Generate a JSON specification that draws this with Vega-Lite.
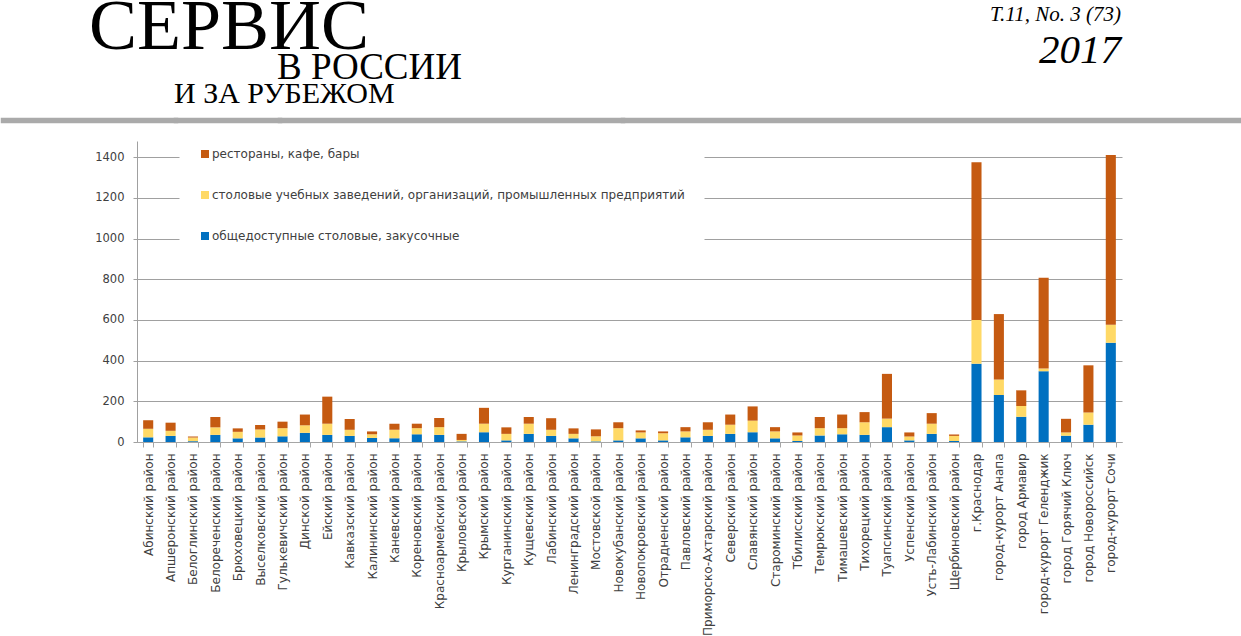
{
  "$schema": "https://vega.github.io/schema/vega-lite/v6.json",
  "padding": {"left": 0, "top": -12, "right": 0, "bottom": 0},
  "background": "white",
  "columns": 1,
  "spacing": 0,
  "config": {"view": {"stroke": null}, "concat": {"spacing": 0}},
  "resolve": {"legend": {"color": "independent"}},
  "concat": [
    {
      "spacing": 0,
      "bounds": "flush",
      "hconcat": [
        {
          "width": 173, "height": 1,
          "view": {"stroke": "#aaaaaa", "strokeWidth": 4.5},
          "data": {"values": [{}]},
          "mark": "text",
          "encoding": {"text": {"value": ""}},
          "title": {
            "text": "СЕРВИС", "anchor": "start", "frame": "group", "dx": 86, "offset": 50.5,
            "font": "Liberation Serif", "fontSize": 72, "fontWeight": "normal", "color": "black"
          }
        },
        {
          "width": 104, "height": 1,
          "view": {"stroke": "#aaaaaa", "strokeWidth": 4.5},
          "data": {"values": [{}]},
          "mark": "text",
          "encoding": {"text": {"value": ""}},
          "title": {
            "text": "И ЗА РУБЕЖОМ", "anchor": "start", "frame": "group", "dx": -2, "offset": 5.5,
            "font": "Liberation Serif", "fontSize": 30, "fontWeight": "normal", "color": "black"
          }
        },
        {
          "width": 343, "height": 1,
          "view": {"stroke": "#aaaaaa", "strokeWidth": 4.5},
          "data": {"values": [{}]},
          "mark": "text",
          "encoding": {"text": {"value": ""}},
          "title": {
            "text": "В РОССИИ", "anchor": "start", "frame": "group", "dx": -3, "offset": 27.5,
            "font": "Liberation Serif", "fontSize": 37, "fontWeight": "normal", "color": "black"
          }
        },
        {
          "width": 621, "height": 1,
          "view": {"stroke": "#aaaaaa", "strokeWidth": 4.5},
          "data": {"values": [{}]},
          "mark": "text",
          "encoding": {"text": {"value": ""}},
          "title": {
            "text": "T.11, No. 3 (73)",
            "subtitle": "2017",
            "anchor": "end", "frame": "group", "dx": -123, "offset": 43.5,
            "font": "Liberation Serif", "fontStyle": "italic", "fontSize": 21, "fontWeight": "normal", "color": "black",
            "subtitleFont": "Liberation Serif", "subtitleFontStyle": "italic", "subtitleFontSize": 41, "subtitleColor": "black", "subtitlePadding": 6
          }
        }
      ]
    },
    {
      "spacing": 0,
      "resolve": {"legend": {"color": "independent"}},
      "hconcat": [
        {
          "width": 1, "height": 1,
          "data": {"values": [{}]},
          "mark": "text",
          "encoding": {"text": {"value": ""}}
        },
        {
          "width": 985,
          "height": 301,
          "data": {"values": [
            {"district": "Абинский район", "общедоступные столовые, закусочные": 23, "столовые учебных заведений, организаций, промышленных предприятий": 42, "рестораны, кафе, бары": 42},
            {"district": "Апшеронский район", "общедоступные столовые, закусочные": 30, "столовые учебных заведений, организаций, промышленных предприятий": 25, "рестораны, кафе, бары": 40},
            {"district": "Белоглинский район", "общедоступные столовые, закусочные": 4, "столовые учебных заведений, организаций, промышленных предприятий": 18, "рестораны, кафе, бары": 5},
            {"district": "Белореченский район", "общедоступные столовые, закусочные": 35, "столовые учебных заведений, организаций, промышленных предприятий": 37, "рестораны, кафе, бары": 51},
            {"district": "Брюховецкий район", "общедоступные столовые, закусочные": 18, "столовые учебных заведений, организаций, промышленных предприятий": 32, "рестораны, кафе, бары": 17},
            {"district": "Выселковский район", "общедоступные столовые, закусочные": 22, "столовые учебных заведений, организаций, промышленных предприятий": 40, "рестораны, кафе, бары": 21},
            {"district": "Гулькевичский район", "общедоступные столовые, закусочные": 28, "столовые учебных заведений, организаций, промышленных предприятий": 40, "рестораны, кафе, бары": 32},
            {"district": "Динской район", "общедоступные столовые, закусочные": 45, "столовые учебных заведений, организаций, промышленных предприятий": 37, "рестораны, кафе, бары": 53},
            {"district": "Ейский район", "общедоступные столовые, закусочные": 35, "столовые учебных заведений, организаций, промышленных предприятий": 55, "рестораны, кафе, бары": 133},
            {"district": "Кавказский район", "общедоступные столовые, закусочные": 30, "столовые учебных заведений, организаций, промышленных предприятий": 30, "рестораны, кафе, бары": 53},
            {"district": "Калининский район", "общедоступные столовые, закусочные": 20, "столовые учебных заведений, организаций, промышленных предприятий": 18, "рестораны, кафе, бары": 14},
            {"district": "Каневский район", "общедоступные столовые, закусочные": 18, "столовые учебных заведений, организаций, промышленных предприятий": 42, "рестораны, кафе, бары": 30},
            {"district": "Кореновский район", "общедоступные столовые, закусочные": 38, "столовые учебных заведений, организаций, промышленных предприятий": 30, "рестораны, кафе, бары": 22},
            {"district": "Красноармейский район", "общедоступные столовые, закусочные": 35, "столовые учебных заведений, организаций, промышленных предприятий": 38, "рестораны, кафе, бары": 45},
            {"district": "Крыловской район", "общедоступные столовые, закусочные": 3, "столовые учебных заведений, организаций, промышленных предприятий": 7, "рестораны, кафе, бары": 30},
            {"district": "Крымский район", "общедоступные столовые, закусочные": 48, "столовые учебных заведений, организаций, промышленных предприятий": 42, "рестораны, кафе, бары": 78},
            {"district": "Курганинский район", "общедоступные столовые, закусочные": 8, "столовые учебных заведений, организаций, промышленных предприятий": 32, "рестораны, кафе, бары": 32},
            {"district": "Кущевский район", "общедоступные столовые, закусочные": 40, "столовые учебных заведений, организаций, промышленных предприятий": 50, "рестораны, кафе, бары": 33},
            {"district": "Лабинский район", "общедоступные столовые, закусочные": 30, "столовые учебных заведений, организаций, промышленных предприятий": 30, "рестораны, кафе, бары": 57},
            {"district": "Ленинградский район", "общедоступные столовые, закусочные": 18, "столовые учебных заведений, организаций, промышленных предприятий": 22, "рестораны, кафе, бары": 27},
            {"district": "Мостовской район", "общедоступные столовые, закусочные": 3, "столовые учебных заведений, организаций, промышленных предприятий": 25, "рестораны, кафе, бары": 34},
            {"district": "Новокубанский район", "общедоступные столовые, закусочные": 8, "столовые учебных заведений, организаций, промышленных предприятий": 60, "рестораны, кафе, бары": 29},
            {"district": "Новопокровский район", "общедоступные столовые, закусочные": 18, "столовые учебных заведений, организаций, промышленных предприятий": 29, "рестораны, кафе, бары": 10},
            {"district": "Отрадненский район", "общедоступные столовые, закусочные": 8, "столовые учебных заведений, организаций, промышленных предприятий": 35, "рестораны, кафе, бары": 9},
            {"district": "Павловский район", "общедоступные столовые, закусочные": 23, "столовые учебных заведений, организаций, промышленных предприятий": 29, "рестораны, кафе, бары": 21},
            {"district": "Приморско-Ахтарский район", "общедоступные столовые, закусочные": 30, "столовые учебных заведений, организаций, промышленных предприятий": 30, "рестораны, кафе, бары": 37},
            {"district": "Северский район", "общедоступные столовые, закусочные": 40, "столовые учебных заведений, организаций, промышленных предприятий": 45, "рестораны, кафе, бары": 50},
            {"district": "Славянский район", "общедоступные столовые, закусочные": 48, "столовые учебных заведений, организаций, промышленных предприятий": 57, "рестораны, кафе, бары": 70},
            {"district": "Староминский район", "общедоступные столовые, закусочные": 18, "столовые учебных заведений, организаций, промышленных предприятий": 34, "рестораны, кафе, бары": 21},
            {"district": "Тбилисский район", "общедоступные столовые, закусочные": 5, "столовые учебных заведений, организаций, промышленных предприятий": 27, "рестораны, кафе, бары": 15},
            {"district": "Темрюкский район", "общедоступные столовые, закусочные": 32, "столовые учебных заведений, организаций, промышленных предприятий": 36, "рестораны, кафе, бары": 55},
            {"district": "Тимашевский район", "общедоступные столовые, закусочные": 38, "столовые учебных заведений, организаций, промышленных предприятий": 30, "рестораны, кафе, бары": 67},
            {"district": "Тихорецкий район", "общедоступные столовые, закусочные": 35, "столовые учебных заведений, организаций, промышленных предприятий": 62, "рестораны, кафе, бары": 50},
            {"district": "Туапсинский район", "общедоступные столовые, закусочные": 73, "столовые учебных заведений, организаций, промышленных предприятий": 42, "рестораны, кафе, бары": 220},
            {"district": "Успенский район", "общедоступные столовые, закусочные": 8, "столовые учебных заведений, организаций, промышленных предприятий": 19, "рестораны, кафе, бары": 20},
            {"district": "Усть-Лабинский район", "общедоступные столовые, закусочные": 40, "столовые учебных заведений, организаций, промышленных предприятий": 50, "рестораны, кафе, бары": 52},
            {"district": "Щербиновский район", "общедоступные столовые, закусочные": 5, "столовые учебных заведений, организаций, промышленных предприятий": 25, "рестораны, кафе, бары": 7},
            {"district": "г.Краснодар", "общедоступные столовые, закусочные": 385, "столовые учебных заведений, организаций, промышленных предприятий": 215, "рестораны, кафе, бары": 775},
            {"district": "город-курорт Анапа", "общедоступные столовые, закусочные": 231, "столовые учебных заведений, организаций, промышленных предприятий": 76, "рестораны, кафе, бары": 322},
            {"district": "город Армавир", "общедоступные столовые, закусочные": 124, "столовые учебных заведений, организаций, промышленных предприятий": 53, "рестораны, кафе, бары": 77},
            {"district": "город-курорт Геленджик", "общедоступные столовые, закусочные": 348, "столовые учебных заведений, организаций, промышленных предприятий": 13, "рестораны, кафе, бары": 447},
            {"district": "город Горячий Ключ", "общедоступные столовые, закусочные": 31, "столовые учебных заведений, организаций, промышленных предприятий": 16, "рестораны, кафе, бары": 67},
            {"district": "город Новороссийск", "общедоступные столовые, закусочные": 85, "столовые учебных заведений, организаций, промышленных предприятий": 60, "рестораны, кафе, бары": 232},
            {"district": "город-курорт Сочи", "общедоступные столовые, закусочные": 488, "столовые учебных заведений, организаций, промышленных предприятий": 88, "рестораны, кафе, бары": 835}
          ]},
          "transform": [
            {"fold": ["общедоступные столовые, закусочные", "столовые учебных заведений, организаций, промышленных предприятий", "рестораны, кафе, бары"], "as": ["type", "count"]},
            {"lookup": "type", "from": {"data": {"values": [
              {"type": "общедоступные столовые, закусочные", "rank": 1},
              {"type": "столовые учебных заведений, организаций, промышленных предприятий", "rank": 2},
              {"type": "рестораны, кафе, бары", "rank": 3}
            ]}, "key": "type", "fields": ["rank"]}}
          ],
          "mark": {"type": "bar"},
          "encoding": {
            "x": {
              "field": "district", "type": "nominal", "sort": null,
              "scale": {"paddingInner": 0.55, "paddingOuter": 0.275},
              "axis": {
                "title": null, "labelAngle": -90, "labelFont": "DejaVu Sans", "labelFontSize": 12, "labelColor": "#404040",
                "labelPadding": 6, "labelLimit": 400, "tickSize": 5, "tickBand": "extent", "tickColor": "#a6a6a6",
                "domainColor": "#a6a6a6", "grid": false
              }
            },
            "y": {
              "field": "count", "type": "quantitative", "stack": "zero",
              "scale": {"domain": [0, 1480], "nice": false},
              "axis": {
                "title": null, "values": [0, 200, 400, 600, 800, 1000, 1200, 1400], "format": "d",
                "labelFont": "DejaVu Sans", "labelFontSize": 11.5, "labelColor": "#404040", "labelPadding": 9,
                "tickSize": 4, "tickColor": "#a0a0a0", "domainColor": "#a0a0a0",
                "grid": true, "gridColor": "#a0a0a0", "minExtent": 133
              }
            },
            "order": {"field": "rank", "type": "quantitative", "sort": "ascending"},
            "color": {
              "field": "type", "type": "nominal",
              "scale": {
                "domain": ["рестораны, кафе, бары", "столовые учебных заведений, организаций, промышленных предприятий", "общедоступные столовые, закусочные"],
                "range": ["#C55A11", "#FFD966", "#0070C0"]
              },
              "legend": {
                "title": null, "orient": "none", "legendX": 42.5, "legendY": -12.5,
                "fillColor": "white", "padding": 19.5, "symbolType": "square", "symbolSize": 64, "symbolStrokeWidth": 0,
                "labelFont": "DejaVu Sans", "labelFontSize": 12, "labelColor": "#404040", "labelOffset": 1,
                "rowPadding": 29, "labelLimit": 600
              }
            }
          }
        }
      ]
    }
  ]
}
